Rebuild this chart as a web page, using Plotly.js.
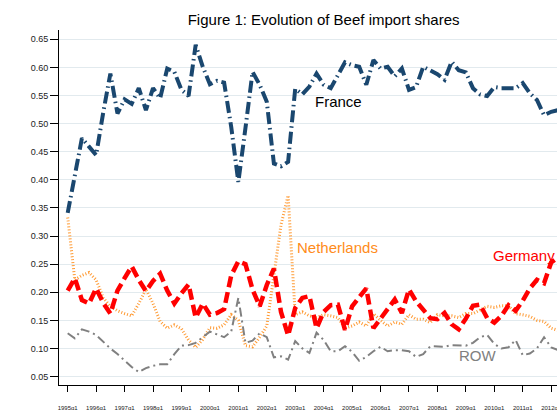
<!DOCTYPE html>
<html>
<head>
<meta charset="utf-8">
<script src="https://cdn.plot.ly/plotly-3.0.1.min.js"></script>
<style>
html,body{margin:0;padding:0;background:#fff;}
#chart{width:557px;height:410px;}
</style>
</head>
<body>
<div id="chart"></div>
<script>
// Quarters 1995q1 .. 2012q2
const startYear = 1995;
const nQuarters = 70;
const periods = [];
for (let i = 0; i < nQuarters; i++) {
  periods.push((startYear + Math.floor(i / 4)) + 'q' + (i % 4 + 1));
}

const france = [0.341,0.408,0.474,0.459,0.444,0.520,0.589,0.518,0.543,0.535,
  0.563,0.524,0.563,0.545,0.598,0.592,0.560,0.549,0.640,0.601,
  0.570,0.576,0.573,0.494,0.396,0.492,0.592,0.569,0.539,0.429,
  0.424,0.432,0.562,0.552,0.566,0.589,0.569,0.563,0.587,0.609,
  0.604,0.601,0.569,0.613,0.598,0.601,0.584,0.598,0.560,0.565,
  0.601,0.595,0.588,0.578,0.610,0.595,0.591,0.563,0.552,0.549,
  0.565,0.563,0.563,0.563,0.572,0.554,0.542,0.515,0.521,0.524];

const germany = [0.203,0.225,0.186,0.180,0.207,0.181,0.162,0.203,0.225,0.246,
  0.222,0.202,0.220,0.233,0.203,0.180,0.198,0.214,0.155,0.180,
  0.160,0.163,0.170,0.230,0.255,0.250,0.205,0.175,0.213,0.242,
  0.165,0.123,0.172,0.190,0.193,0.136,0.165,0.177,0.178,0.133,
  0.175,0.192,0.207,0.136,0.152,0.171,0.187,0.163,0.205,0.184,
  0.168,0.154,0.152,0.163,0.143,0.134,0.153,0.176,0.178,0.154,
  0.146,0.158,0.177,0.167,0.185,0.207,0.222,0.216,0.253,0.262];

const netherlands = [0.333,0.222,0.230,0.235,0.222,0.190,0.175,0.167,0.162,0.158,
  0.180,0.205,0.180,0.148,0.136,0.142,0.135,0.115,0.102,0.116,
  0.137,0.136,0.142,0.160,0.150,0.105,0.103,0.120,0.140,0.235,
  0.320,0.372,0.160,0.165,0.158,0.155,0.160,0.158,0.155,0.136,
  0.140,0.147,0.140,0.162,0.150,0.140,0.147,0.143,0.160,0.152,
  0.152,0.146,0.160,0.158,0.158,0.155,0.162,0.162,0.168,0.175,
  0.173,0.176,0.176,0.162,0.160,0.157,0.150,0.148,0.136,0.132];

const row = [0.127,0.118,0.134,0.130,0.124,0.112,0.100,0.090,0.079,0.067,
  0.058,0.065,0.069,0.072,0.072,0.090,0.105,0.106,0.110,0.120,
  0.130,0.125,0.120,0.130,0.190,0.110,0.114,0.127,0.120,0.084,
  0.086,0.080,0.113,0.100,0.092,0.128,0.115,0.095,0.095,0.104,
  0.094,0.078,0.085,0.095,0.103,0.095,0.097,0.097,0.095,0.085,
  0.090,0.104,0.103,0.103,0.106,0.106,0.105,0.110,0.120,0.124,
  0.108,0.100,0.102,0.115,0.088,0.091,0.100,0.120,0.102,0.097];

const tickLabels = ['1995q1','1996q1','1997q1','1998q1','1999q1','2000q1','2001q1','2002q1','2003q1',
  '2004q1','2005q1','2006q1','2007q1','2008q1','2009q1','2010q1','2011q1','2012q1'];
const yTicks = [0.05,0.10,0.15,0.20,0.25,0.30,0.35,0.40,0.45,0.50,0.55,0.60,0.65];

const xIdx = periods.map((p, i) => i);
const tickVals = tickLabels.map(l => periods.indexOf(l));

const FONT = 'Liberation Sans, Arial, Helvetica, sans-serif';

const traces = [
  {x: xIdx, y: netherlands, name: 'Netherlands', mode: 'lines',
   line: {color: '#ff9a33', width: 3, dash: '1px,2px'}},
  {x: xIdx, y: row, name: 'ROW', mode: 'lines',
   line: {color: '#808080', width: 2, dash: '9px,4px,2px,4px'}},
  {x: xIdx, y: germany, name: 'Germany', mode: 'lines',
   line: {color: '#ff0000', width: 4.5, dash: '11px,5px'}},
  {x: xIdx, y: france, name: 'France', mode: 'lines',
   line: {color: '#1a476f', width: 4, dash: '12px,4px,1.5px,4px'}}
];

const layout = {
  width: 557, height: 410,
  margin: {l: 59, r: 0, t: 30, b: 25, pad: 0},
  paper_bgcolor: '#ffffff', plot_bgcolor: '#ffffff',
  showlegend: false,
  font: {family: FONT, color: '#000'},
  title: {text: 'Figure 1: Evolution of Beef import shares',
          font: {family: FONT, size: 15, color: '#000'},
          xref: 'container', yref: 'container', x: 0.581, y: 0.953,
          xanchor: 'center', yanchor: 'middle'},
  xaxis: {
    range: [-1.224, 68.82], showgrid: false, zeroline: false,
    showline: true, linecolor: '#000', linewidth: 1,
    tickmode: 'array', tickvals: tickVals, ticktext: tickLabels,
    ticks: 'outside', ticklen: 6, tickwidth: 1, tickcolor: '#000',
    ticklabelstandoff: 11, ticklabeloverflow: 'allow',
    tickfont: {family: FONT, size: 6, color: '#222'}
  },
  yaxis: {
    range: [0.035, 0.6665], zeroline: false,
    showgrid: true, gridcolor: '#e2eaee', gridwidth: 1,
    showline: true, linecolor: '#000', linewidth: 1,
    tickmode: 'array', tickvals: yTicks, tickformat: '.2f',
    ticks: 'outside', ticklen: 8, tickwidth: 1, tickcolor: '#000',
    tickfont: {family: FONT, size: 9, color: '#222'}
  },
  annotations: [
    {x: 38.06, y: 0.539, text: 'France', showarrow: false, xref: 'x', yref: 'y',
     font: {family: FONT, size: 15, color: '#000'}, xanchor: 'center', yanchor: 'middle'},
    {x: 37.88, y: 0.279, text: 'Netherlands', showarrow: false, xref: 'x', yref: 'y',
     font: {family: FONT, size: 15, color: '#ff8c1a'}, xanchor: 'center', yanchor: 'middle'},
    {x: 64.18, y: 0.265, text: 'Germany', showarrow: false, xref: 'x', yref: 'y',
     font: {family: FONT, size: 15, color: '#ff0000'}, xanchor: 'center', yanchor: 'middle'},
    {x: 57.71, y: 0.0866, text: 'ROW', showarrow: false, xref: 'x', yref: 'y',
     font: {family: FONT, size: 15, color: '#808080'}, xanchor: 'center', yanchor: 'middle'}
  ]
};

Plotly.newPlot('chart', traces, layout, {staticPlot: true, displayModeBar: false});
</script>
</body>
</html>
